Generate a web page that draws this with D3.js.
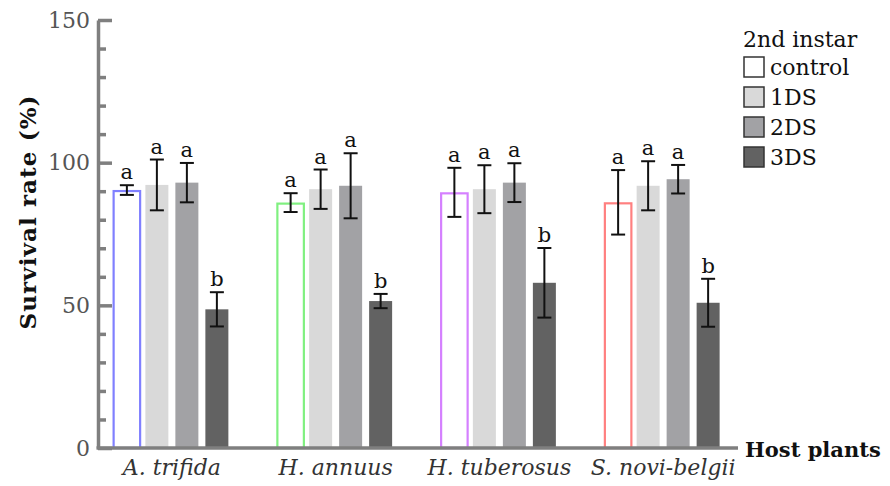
<!DOCTYPE html>
<html>
<head>
<meta charset="utf-8">
<script src="https://cdn.jsdelivr.net/npm/d3@7"></script>
<style>
  html, body { margin: 0; padding: 0; background: #fff; }
  svg { display: block; }
  text { font-family: "DejaVu Serif", "Liberation Serif", serif; }
</style>
</head>
<body>
<svg id="chart" width="890" height="486"></svg>
<script>
// ---- data ----
const categories = ["A. trifida", "H. annuus", "H. tuberosus", "S. novi-belgii"];
const seriesNames = ["control", "1DS", "2DS", "3DS"];
const controlValues = [90.4, 86.0, 89.6, 86.1];
const controlErrors = [1.7, 3.3, 8.6, 11.3];
const ds1Values = [92.2, 90.7, 90.7, 91.9];
const ds1Errors = [8.9, 6.9, 8.4, 8.6];
const ds2Values = [93.0, 91.9, 93.0, 94.2];
const ds2Errors = [6.9, 11.4, 6.8, 5.0];
const ds3Values = [48.6, 51.5, 57.9, 50.9];
const ds3Errors = [6.0, 2.5, 12.2, 8.4];
const letters = [["a", "a", "a", "b"], ["a", "a", "a", "b"], ["a", "a", "a", "b"], ["a", "a", "a", "b"]];
const yTicks = [0, 50, 100, 150];
const yMinorTicks = [10, 20, 30, 40, 60, 70, 80, 90, 110, 120, 130, 140];

// ---- styles ----
const controlStrokes = ["#8080ff", "#80f080", "#d580ff", "#ff8080"];
const seriesFills = ["#ffffff", "#d9d9d9", "#a2a2a5", "#626262"];
const axisColor = "#7f7f7f";

const valuesBySeries = [controlValues, ds1Values, ds2Values, ds3Values];
const errorsBySeries = [controlErrors, ds1Errors, ds2Errors, ds3Errors];

const svg = d3.select("#chart");

const y = d3.scaleLinear().domain([0, 150]).range([448, 20]);
const x0 = d3.scaleBand().domain(categories).range([90, 745]).padding(0);
const x1 = d3.scaleBand().domain(seriesNames).range([-60, 60]).padding(0);

const data = [];
categories.forEach((c, gi) => {
  seriesNames.forEach((s, si) => {
    data.push({ cat: c, gi, s, si, v: valuesBySeries[si][gi], e: errorsBySeries[si][gi], letter: letters[gi][si] });
  });
});

const cx = d => x0(d.cat) + x0.bandwidth() / 2 + x1(d.s) + x1.bandwidth() / 2;

// bars
const barW = 23, ctrlW = 26.5;
svg.append("g").selectAll("rect").data(data).join("rect")
  .attr("x", d => cx(d) - (d.si === 0 ? ctrlW : barW) / 2)
  .attr("y", d => d.si === 0 ? y(d.v) + 1 : y(d.v))
  .attr("width", d => d.si === 0 ? ctrlW : barW)
  .attr("height", d => d.si === 0 ? y(0) - y(d.v) - 1 : y(0) - y(d.v))
  .attr("fill", d => seriesFills[d.si])
  .attr("stroke", d => d.si === 0 ? controlStrokes[d.gi] : "none")
  .attr("stroke-width", 2.2);

// error bars
const eg = svg.append("g").style("stroke", "#111").style("stroke-width", "2px").attr("fill", "none");
data.forEach(d => {
  const g = eg.append("g");
  const xc = cx(d);
  g.append("line").attr("x1", xc).attr("x2", xc).attr("y1", y(d.v + d.e)).attr("y2", y(d.v - d.e));
  g.append("line").attr("x1", xc - 7).attr("x2", xc + 7).attr("y1", y(d.v + d.e)).attr("y2", y(d.v + d.e));
  g.append("line").attr("x1", xc - 7).attr("x2", xc + 7).attr("y1", y(d.v - d.e)).attr("y2", y(d.v - d.e));
});

// letters
svg.append("g").selectAll("text").data(data).join("text")
  .attr("x", d => cx(d))
  .attr("y", d => y(d.v + d.e) - 6)
  .attr("text-anchor", "middle")
  .attr("font-size", 21)
  .attr("fill", "#111")
  .text(d => d.letter);

// y axis
const yAxisG = svg.append("g").attr("transform", "translate(98,0)");
yAxisG.call(d3.axisLeft(y).tickValues(yTicks).tickSize(-14).tickSizeOuter(0).tickPadding(8));
yAxisG.append("g").call(d3.axisLeft(y).tickValues(yMinorTicks).tickSize(-8).tickSizeOuter(0).tickFormat(""))
  .select(".domain").remove();
yAxisG.selectAll("path, line").style("stroke", axisColor).style("stroke-width", "3.5px");
yAxisG.selectAll("text").attr("font-size", 22).attr("fill", "#555").attr("font-family", "DejaVu Serif");

// x axis
const xAxisG = svg.append("g").attr("transform", `translate(0,${y(0)})`);
xAxisG.call(d3.axisBottom(x0).tickSize(0).tickPadding(0));
xAxisG.select(".domain").attr("d", "M96.5,0H738").style("stroke", axisColor).style("stroke-width", "3.5px");
xAxisG.selectAll("text")
  .attr("y", 27).attr("dy", 0)
  .attr("font-size", 22).attr("font-style", "italic").attr("fill", "#333")
  .attr("font-family", "DejaVu Serif");

// axis titles
svg.append("text")
  .attr("transform", "translate(27,212) rotate(-90)")
  .attr("text-anchor", "middle").attr("dominant-baseline", "central")
  .attr("font-size", 23).attr("letter-spacing", 1.1).attr("font-weight", "bold").attr("fill", "#111")
  .text("Survival rate (%)");

svg.append("text")
  .attr("x", 745).attr("y", 457)
  .attr("font-size", 21).attr("font-weight", "bold").attr("fill", "#111")
  .text("Host plants");

// legend
const lg = svg.append("g").attr("transform", "translate(743,0)");
lg.append("text").attr("x", 0).attr("y", 47).attr("font-size", 22).attr("fill", "#111").text("2nd instar");
const li = lg.selectAll("g.item").data(seriesNames).join("g").attr("class", "item")
  .attr("transform", (d, i) => `translate(0,${57 + i * 30})`);
li.append("rect").attr("x", 1).attr("y", 0).attr("width", 20).attr("height", 20)
  .attr("fill", (d, i) => seriesFills[i]).attr("stroke", "#333").attr("stroke-width", 1.5);
li.append("text").attr("x", 27).attr("y", 18).attr("font-size", 22).attr("fill", "#111").text(d => d);
</script>
</body>
</html>
